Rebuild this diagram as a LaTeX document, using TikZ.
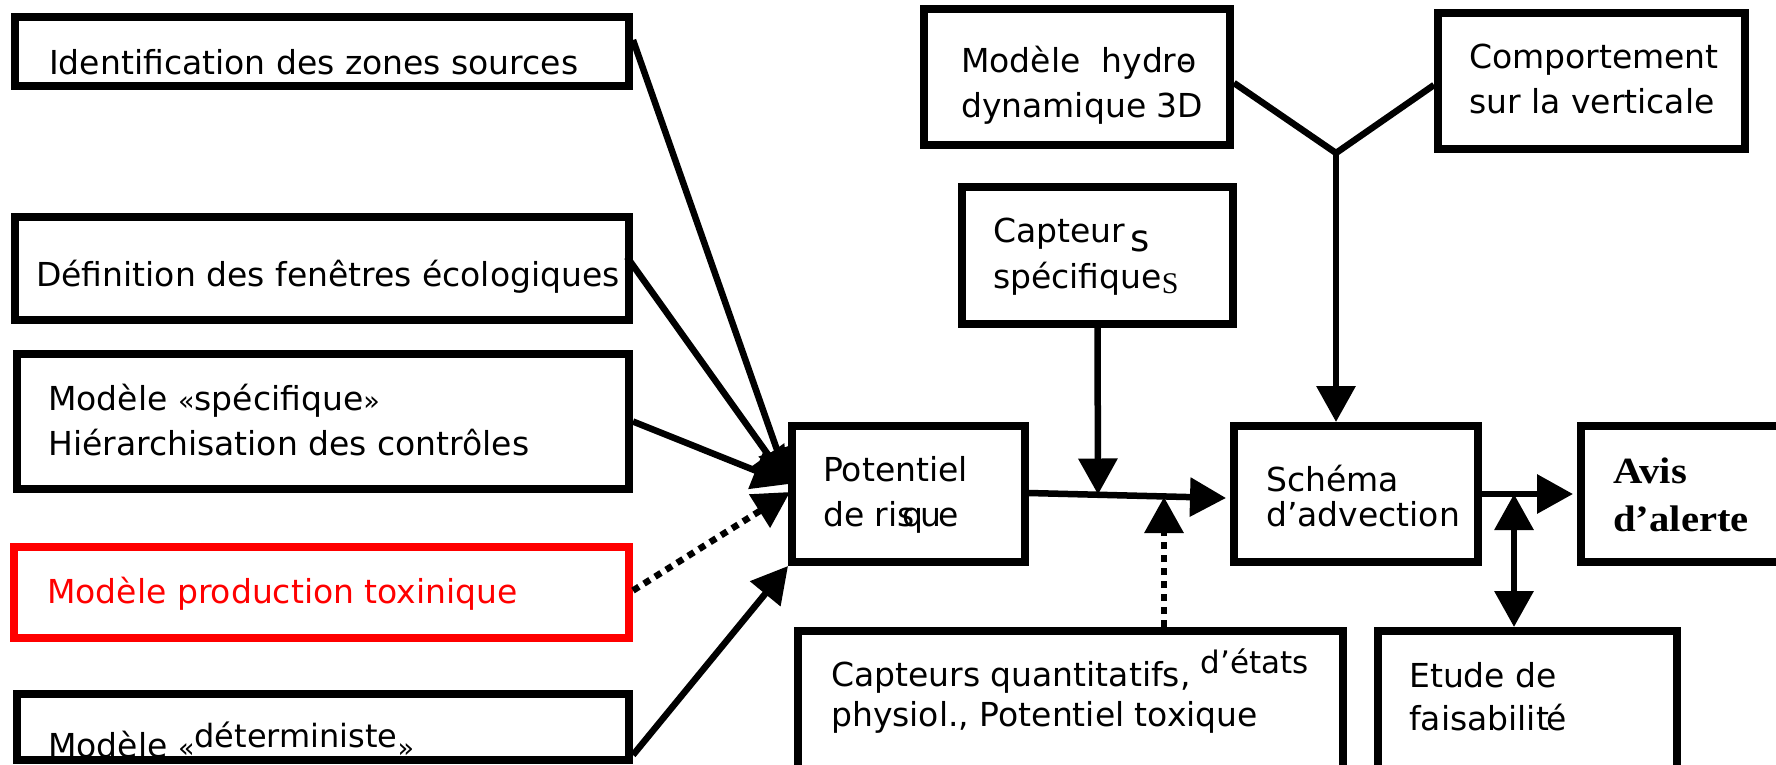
\documentclass[tikz,border=0pt]{standalone}
\usepackage{fontspec}
\setmainfont{DejaVu Sans}
\newfontfamily\avisfont[FakeStretch=1.1]{Liberation Serif}
\newfontfamily\serifs{Liberation Serif}
\usetikzlibrary{arrows.meta}
\tikzset{
  box/.style={draw, line width=8pt, rectangle, inner sep=0pt},
  redbox/.style={box, draw=red},
  txt/.style={anchor=base west, inner sep=0pt, font=\fontsize{33}{40}\selectfont},
  conn/.style={line width=6.5pt, -{Triangle[length=36pt,width=38pt]}},
  dotconn/.style={conn, dash pattern=on 7pt off 6pt},
  dconn/.style={line width=6.5pt, {Triangle[length=36pt,width=38pt]}-{Triangle[length=36pt,width=38pt]}},
  plain/.style={line width=6.5pt},
}
\newcommand{\smallguil}[1]{{\fontsize{27}{27}\selectfont #1}}
\begin{document}
\begin{tikzpicture}[x=1pt,y=-1pt]
\useasboundingbox (0,0) rectangle (1776,764);
\clip (0,0) rectangle (1776,764);
\fill[white] (0,0) rectangle (1776,764);

% left column boxes
\node[box, minimum width=614pt, minimum height=69pt] (b1) at (322,51.5) {};
\node[box, minimum width=614pt, minimum height=103pt] (b2) at (322,268.5) {};
\node[box, minimum width=612pt, minimum height=135pt] (b3) at (323,421.5) {};
\node[redbox, minimum width=615pt, minimum height=91pt] (b4) at (321.5,592.5) {};
\node[box, minimum width=612pt, minimum height=66pt] (b5) at (323,727) {};

% middle / right boxes
\node[box, minimum width=233pt, minimum height=136pt] (pr) at (908.5,494) {};
\node[box, minimum width=244pt, minimum height=136pt] (sa) at (1356,494) {};
\node[box, minimum width=215pt, minimum height=136pt] (av) at (1688.5,494) {};
\node[box, minimum width=306pt, minimum height=136pt] (hm) at (1077,77) {};
\node[box, minimum width=307pt, minimum height=136pt] (cv) at (1591.5,81) {};
\node[box, minimum width=271pt, minimum height=137pt] (cs) at (1097.5,255.5) {};
\node[box, minimum width=545pt, minimum height=155pt] (cq) at (1070.5,708.5) {};
\node[box, minimum width=299pt, minimum height=155pt] (ef) at (1527.5,708.5) {};

% texts
\node[txt] (t1) at (49,74) {Identification des zones sources};
\node[txt] (t2) at (36,286) {Définition des fenêtres écologiques};
\node[txt] (t3a) at (48,410) {Modèle \smallguil{«}spécifique\smallguil{»}};
\node[txt] (t3b) at (48,455) {Hiérarchisation des contrôles};
\node[txt, text=red] (t4) at (47,603) {Modèle production toxinique};
\node[txt] (t5) at (48,757) {Modèle \smallguil{«}\raisebox{10pt}{\fontsize{32}{32}\selectfont déterministe}\smallguil{»}};

\node[txt] (tp1) at (823,481) {Potentiel};
\node[txt] (tp2) at (823,526) {de ri\rlap{s}\kern5pt q\kern-3pt u\kern-3pt e};
\node[txt] (ts1) at (1266,491) {Schéma};
\node[txt] (ts2) at (1266,526) {d’advection};
\node[txt, font=\avisfont\bfseries\fontsize{37}{40}\selectfont] (ta1) at (1613,483) {Avis};
\node[txt, font=\avisfont\bfseries\fontsize{37}{40}\selectfont] (ta2) at (1613,531) {d’alerte};
\node[txt] (th1) at (961,72) {Modèle\ \ hydr\rlap{o}\kern4pt-};
\node[txt] (th2) at (961,117) {dynamique 3D};
\node[txt] (tc1) at (1469,68) {Comportement};
\node[txt] (tc2) at (1469,113) {sur la verticale};
\node[txt] (tcs1) at (993,242) {Capteur\kern5pt\raisebox{-9pt}{\fontsize{37}{37}\selectfont s}};
\node[txt] (tcs2) at (993,288) {spécifique\raisebox{-5pt}{\serifs\fontsize{30}{30}\selectfont S}};
\node[txt] (tq1) at (831,686) {Capteurs quantitatifs, \raisebox{13pt}{\fontsize{31}{31}\selectfont d’états}};
\node[txt] (tq2) at (831,726) {physiol., Potentiel toxique};
\node[txt] (te1) at (1409,687) {Etude de};
\node[txt] (te2) at (1409,730) {faisabilit\kern-3pt é};

% junction coordinates
\coordinate (C1) at (789,484);
\coordinate (C2) at (790,492);
\coordinate (J1) at (1098,494.5);
\coordinate (J2) at (1164,497);
\coordinate (Y) at (1336,153);
\coordinate (J3) at (1514,494);

% connectors
\draw[conn] ([yshift=11.5pt]b1.east) -- (C1);
\draw[conn] ([yshift=11.5pt,xshift=-6pt]b2.east) -- (C1);
\draw[conn] (b3.east) -- (C1);
\draw[dotconn] ([yshift=2pt]b4.east) -- (C2);
\draw[conn] ([yshift=-28pt]b5.east) -- (pr.south west);

\draw[conn] ([yshift=1pt]pr.east) -- ([xshift=-4pt,yshift=-4pt]sa.west);
\draw[conn] (cs.south) -- (J1);
\draw[dotconn] (cq.north -| J2) -- (J2);
\draw[plain] ([yshift=-6pt]hm.east) -- (Y) -- ([yshift=-4pt]cv.west);
\draw[conn] (Y) -- (Y |- sa.north);
\draw[conn] (sa.east) -- ([xshift=-4pt]av.west);
\draw[dconn] (J3) -- (ef.north -| J3);
\end{tikzpicture}
\end{document}
